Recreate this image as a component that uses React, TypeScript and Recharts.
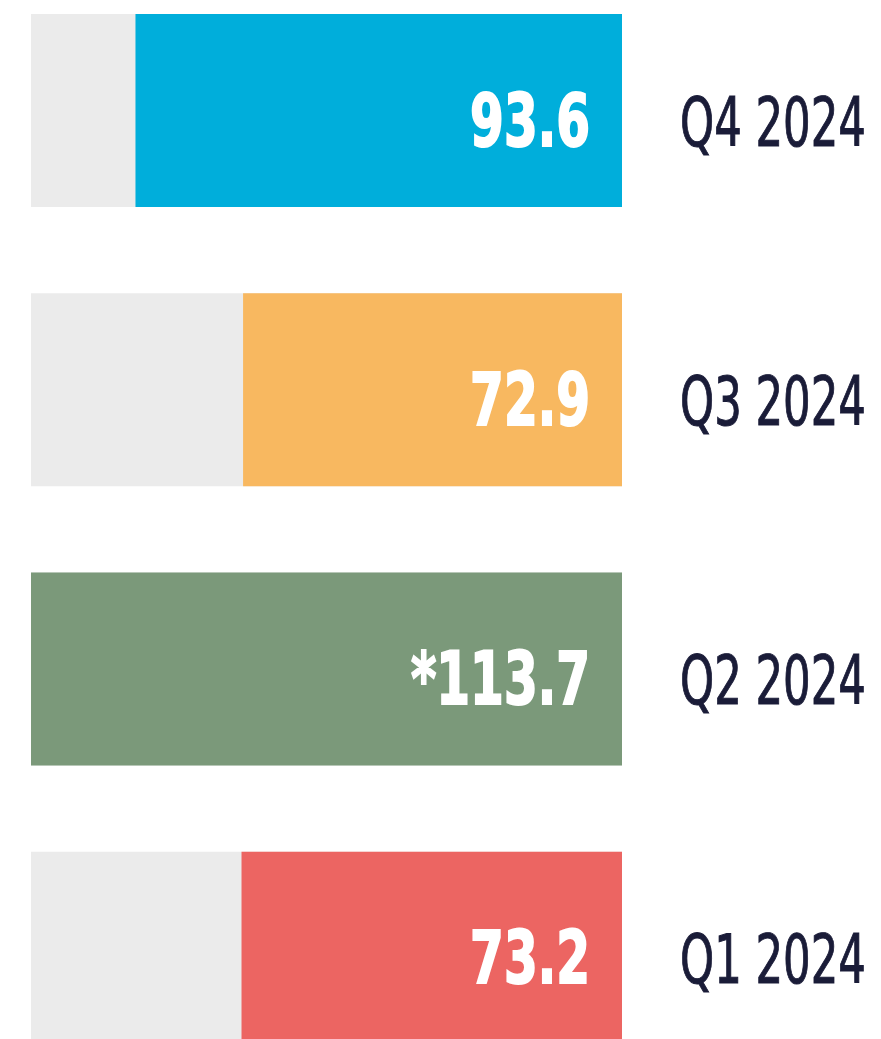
import { BarChart, Bar, XAxis, YAxis, Cell, LabelList } from 'recharts'

const quarters = ['Q4 2024', 'Q3 2024', 'Q2 2024', 'Q1 2024']
const values = [93.6, 72.9, 113.7, 73.2]
const valueLabels = ['93.6', '72.9', '*113.7', '73.2']
const colors = ['#00aedb', '#f8b860', '#7b997a', '#ec6562']

const data = quarters.map((q, i) => ({
  quarter: q,
  value: values[i],
  label: valueLabels[i],
}))

function QuarterTick(props: any) {
  const { x, y, payload } = props
  const tx = x + 58
  return (
    <text
      x={0}
      y={0}
      transform={`translate(${tx}, ${y + 35}) scale(0.72, 1)`}
      fontFamily="'DejaVu Sans Condensed', 'DejaVu Sans', sans-serif"
      fontSize={67}
      fill="#1a1c38"
      stroke="#1a1c38"
      strokeWidth={1}
      textAnchor="start"
    >
      {payload.value}
    </text>
  )
}

function ValueLabel(props: any) {
  const { x, y, width, height, index } = props
  const right = Math.max(x, x + width) - 32
  const cy = y + height / 2
  return (
    <text
      x={0}
      y={0}
      transform={`translate(${right}, ${cy + 35}) scale(0.74, 1)`}
      fontFamily="'DejaVu Sans Condensed', 'DejaVu Sans', sans-serif"
      fontWeight="bold"
      fontSize={73}
      fill="#ffffff"
      stroke="#ffffff"
      strokeWidth={2}
      textAnchor="end"
    >
      {valueLabels[index]}
    </text>
  )
}

export default function App() {
  return (
    <div
      style={{
        position: 'absolute',
        left: 0,
        top: 0,
        width: 881,
        height: 1039,
        overflow: 'hidden',
        background: '#ffffff',
      }}
    >
      <div style={{ marginTop: -29 }}>
        <BarChart
          width={881}
          height={1117}
          data={data}
          layout="vertical"
          margin={{ top: 0, right: 0, bottom: 0, left: 31 }}
        >
          <XAxis type="number" reversed domain={[0, 'dataMax']} hide />
          <YAxis
            type="category"
            dataKey="quarter"
            orientation="right"
            width={259}
            axisLine={false}
            tickLine={false}
            tickSize={0}
            tickMargin={0}
            tick={<QuarterTick />}
          />
          <Bar
            dataKey="value"
            barSize={193}
            background={{ fill: '#ebebeb' }}
            isAnimationActive={false}
          >
            {data.map((d, i) => (
              <Cell key={d.quarter} fill={colors[i]} />
            ))}
            <LabelList dataKey="label" content={<ValueLabel />} />
          </Bar>
        </BarChart>
      </div>
    </div>
  )
}
